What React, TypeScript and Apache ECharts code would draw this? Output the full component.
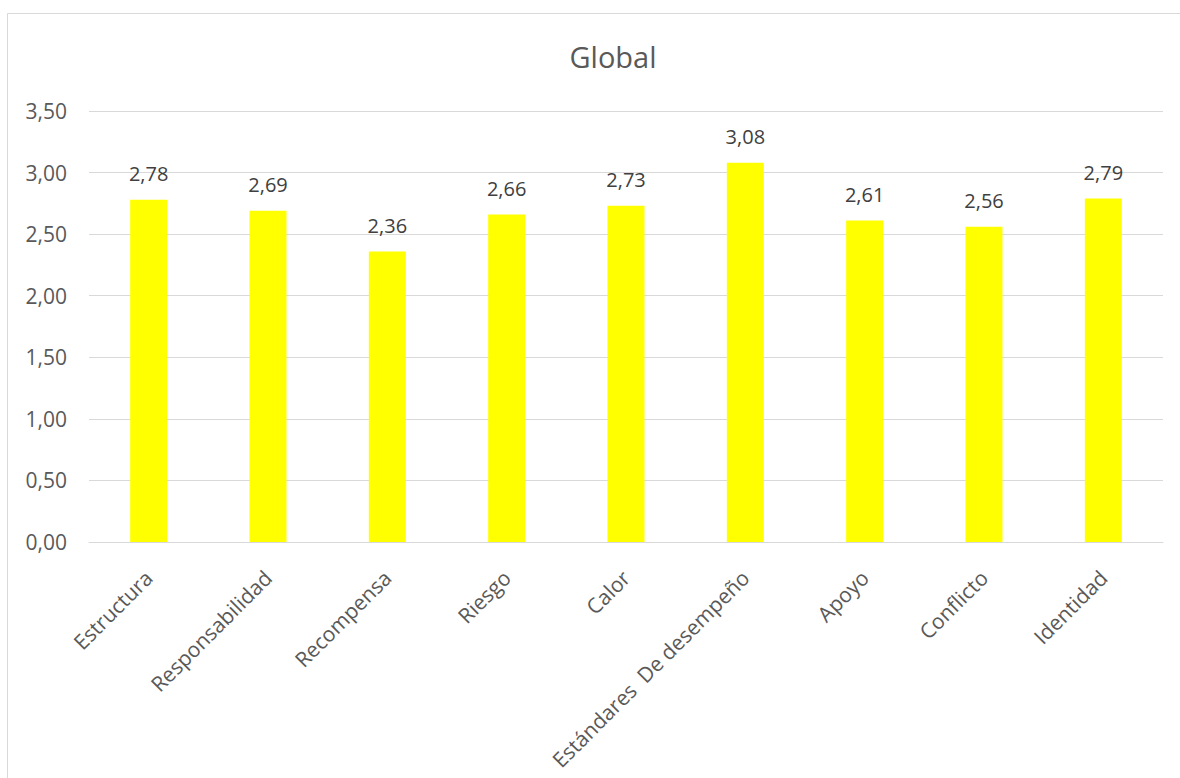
import React, { useEffect, useRef } from "react";
import * as echarts from "echarts";

const categories = [
  "Estructura",
  "Responsabilidad",
  "Recompensa",
  "Riesgo",
  "Calor",
  "Estándares  De desempeño",
  "Apoyo",
  "Conflicto",
  "Identidad",
];
const values = [2.78, 2.69, 2.36, 2.66, 2.73, 3.08, 2.61, 2.56, 2.79];
const titleText = "Global";

const fmt = (v: number) => v.toFixed(2).replace(".", ",");

export default function App() {
  const ref = useRef<HTMLDivElement>(null);
  useEffect(() => {
    const chart = echarts.init(ref.current!, null, { renderer: "svg" });
    const font = "'Open Sans', 'Noto Sans', sans-serif";
    chart.setOption({
      animation: false,
      backgroundColor: "#ffffff",
      title: {
        text: titleText,
        left: 608,
        textAlign: "center",
        top: 37,
        textStyle: { fontFamily: font, fontSize: 29, fontWeight: "normal", color: "#595959" },
      },
      graphic: [
        {
          type: "rect",
          shape: { x: 7.5, y: 13.5, width: 1200, height: 800 },
          style: { fill: "none", stroke: "#d9d9d9", lineWidth: 1 },
          silent: true,
        },
      ],
      grid: { left: 89, right: 17, top: 111, bottom: 236 },
      xAxis: {
        type: "category",
        data: categories,
        axisLine: { lineStyle: { color: "#d9d9d9", width: 1 } },
        axisTick: { show: false },
        axisLabel: {
          rotate: 45,
          interval: 0,
          margin: 32,
          fontFamily: font,
          fontSize: 21,
          color: "#595959",
        },
      },
      yAxis: {
        type: "value",
        min: 0,
        max: 3.5,
        interval: 0.5,
        axisLine: { show: false },
        axisTick: { show: false },
        splitLine: { lineStyle: { color: "#d9d9d9", width: 1 } },
        axisLabel: {
          formatter: (v: number) => fmt(v),
          fontFamily: font,
          fontSize: 21,
          color: "#595959",
          margin: 22,
        },
      },
      series: [
        {
          type: "bar",
          data: values,
          barWidth: "31%",
          itemStyle: { color: "#ffff00" },
          label: {
            show: true,
            position: "top",
            distance: 16,
            formatter: (p: any) => fmt(p.value),
            fontFamily: font,
            fontSize: 20,
            color: "#404040",
          },
        },
      ],
    });
    return () => chart.dispose();
  }, []);
  return (
    <div
      ref={ref}
      style={{ position: "fixed", left: 0, top: 0, width: 1180, height: 778 }}
    />
  );
}
